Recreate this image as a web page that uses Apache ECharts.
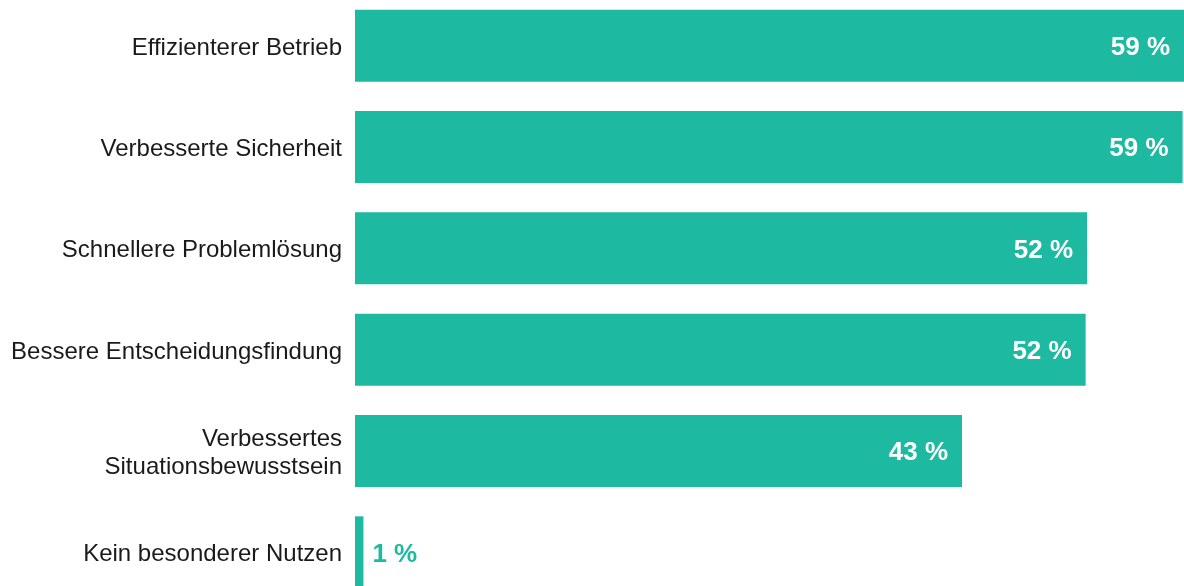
<!DOCTYPE html>
<html>
<head>
<meta charset="utf-8">
<script src="https://cdn.jsdelivr.net/npm/echarts@6/dist/echarts.min.js"></script>
<style>html,body{margin:0;padding:0;background:#fff;overflow:hidden;width:1184px;height:586px;}#c{position:absolute;left:0;top:-5px;width:1184px;height:608px;}</style>
</head>
<body>
<div id="c"></div>
<script>
const categories = [
  'Effizienterer Betrieb',
  'Verbesserte Sicherheit',
  'Schnellere Problemlösung',
  'Bessere Entscheidungsfindung',
  'Verbessertes\nSituationsbewusstsein',
  'Kein besonderer Nutzen'
];
const values = [59.0, 58.9, 52.1, 52.0, 43.2, 0.6];
const axisMax = 59;

const barColor = '#1eb9a1';
const chart = echarts.init(document.getElementById('c'), null, {renderer: 'canvas'});
const data = values.map(function (v) {
  if (v < 5) {
    return {value: v, label: {position: 'right', distance: 9, color: barColor}};
  }
  return v;
});
chart.setOption({
  animation: false,
  backgroundColor: '#ffffff',
  grid: {left: 355, right: 0, top: 0, bottom: 0, containLabel: false},
  xAxis: {type: 'value', min: 0, max: axisMax, show: false},
  yAxis: {
    type: 'category', data: categories, inverse: true,
    axisLine: {show: false}, axisTick: {show: false}, splitLine: {show: false},
    axisLabel: {
      margin: 13, color: '#1a1a1a', fontSize: 24, lineHeight: 28,
      fontFamily: 'Liberation Sans, Arial, sans-serif', align: 'right',
      formatter: function (v) {
        return v.split('\n').map(function (s) { return '{a|' + s + '}'; }).join('\n');
      },
      rich: {
        a: {
          color: '#1a1a1a', fontSize: 24, lineHeight: 28, align: 'right',
          fontFamily: 'Liberation Sans, Arial, sans-serif', padding: [5, 0, 0, 0]
        }
      }
    }
  },
  series: [{
    type: 'bar', data: data, barWidth: 72, clip: false,
    itemStyle: {color: barColor},
    label: {
      show: true, position: 'insideRight', distance: 14, offset: [0, 2],
      color: '#ffffff', fontSize: 26, fontWeight: 'bold',
      fontFamily: 'Liberation Sans, Arial, sans-serif',
      formatter: function (p) { return Math.round(p.value) + ' %'; }
    }
  }]
});
</script>
</body>
</html>
